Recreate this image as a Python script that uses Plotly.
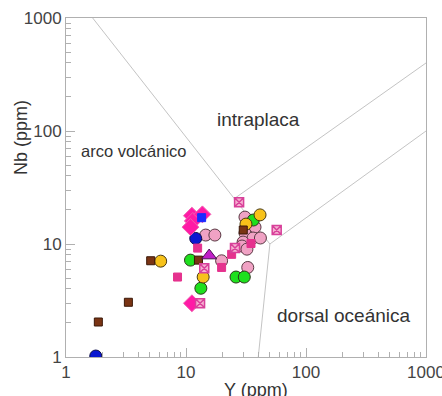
import plotly.graph_objects as go

# ---- data (Y ppm, Nb ppm) ----
pink_circ_y = [31.0, 37.6, 31.0, 36.2, 41.7, 29.9, 29.3, 32.2, 14.6, 17.4, 19.8, 32.7]
pink_circ_nb = [17.3, 14.1, 12.5, 11.3, 11.3, 10.4, 9.6, 9.0, 12.0, 12.0, 7.1, 6.2]
green_y = [10.9, 13.3, 36.4, 26.1, 30.6]
green_nb = [7.2, 4.06, 16.3, 5.1, 5.1]
yellow_y = [6.15, 13.9, 41.4, 31.6]
yellow_nb = [7.05, 5.1, 18.1, 15.0]
blue_circ_y = [1.77, 12.05]
blue_circ_nb = [1.02, 11.2]
brown_sq_y = [5.08, 3.31, 1.86, 12.7, 30.0]
brown_sq_nb = [7.11, 3.05, 2.04, 7.2, 13.3]
mag_sq_y = [12.5, 8.5, 34.8, 24.0, 19.8]
mag_sq_nb = [9.2, 5.1, 10.1, 8.1, 6.2]
diam_y = [11.2, 11.4, 10.9, 13.7, 11.2]
diam_nb = [17.8, 16.0, 14.1, 18.3, 2.99]
xsq_y = [14.2, 13.1, 27.7, 57.0, 25.6]
xsq_nb = [6.1, 2.99, 23.4, 13.3, 9.2]
blue_sq_y = [13.5]
blue_sq_nb = [17.1]
tri_y = [15.6]
tri_nb = [7.9]

# field boundaries (Pearce et al. 1984)
b1_y, b1_nb = [1, 50], [2000, 10]
b2_y, b2_nb = [25, 1000], [25, 400]
b3_y, b3_nb = [50, 1000], [10, 100]
b4_y, b4_nb = [40, 50], [1, 10]

tick_vals = [1, 10, 100, 1000]
tick_text = ["1", "10", "100", "1000"]

fig = go.Figure()
line_style = dict(color="#c4c4c4", width=1)
for bx, by in [(b1_y, b1_nb), (b2_y, b2_nb), (b3_y, b3_nb), (b4_y, b4_nb)]:
    fig.add_trace(go.Scatter(x=bx, y=by, mode="lines", line=line_style,
                             hoverinfo="skip", showlegend=False))

def pts(x, y, symbol, size, color, lcolor, lw=1):
    fig.add_trace(go.Scatter(x=x, y=y, mode="markers", showlegend=False,
                             marker=dict(symbol=symbol, size=size, color=color,
                                         line=dict(color=lcolor, width=lw))))

pts(pink_circ_y, pink_circ_nb, "circle", 12, "#f0a2c4", "#5a3a44")
pts(green_y, green_nb, "circle", 12, "#1ee01e", "#2a3a1a")
pts(yellow_y, yellow_nb, "circle", 12, "#f7c21a", "#4a3a10")
pts(blue_circ_y, blue_circ_nb, "circle", 12, "#0a18d0", "#10104a")
pts(brown_sq_y, brown_sq_nb, "square", 8, "#7a3414", "#3a1808")
pts(mag_sq_y, mag_sq_nb, "square", 8, "#e5328e", "#e5328e")
pts(diam_y, diam_nb, "diamond", 13, "#ff1aa6", "#f060b0")
pts(xsq_y, xsq_nb, "square-x", 9, "#f6b0d0", "#d8409a", 1.5)
pts(blue_sq_y, blue_sq_nb, "square", 8, "#1a2aff", "#1a2aff")
pts(tri_y, tri_nb, "triangle-up", 13, "#c01ec8", "#4a1050")

axis_common = dict(
    type="log", range=[0, 3], tickvals=tick_vals, ticktext=tick_text,
    ticks="inside", ticklen=9, tickcolor="#b0b0b0", tickwidth=1,
    showline=True, linecolor="#b0b0b0", linewidth=1, mirror=True,
    showgrid=False, zeroline=False, ticklabeloverflow="allow", automargin=False,
    tickfont=dict(family="Liberation Sans, Arial", size=17, color="#444"),
    minor=dict(ticks="inside", ticklen=5, tickcolor="#b0b0b0", dtick="D1", showgrid=False),
)
fig.update_xaxes(**axis_common)
fig.update_yaxes(**axis_common)

txt = dict(family="Liberation Sans, Arial", color="#333")
fig.add_annotation(x=1.6, y=2.1, xref="x", yref="y", text="intraplaca",
                   showarrow=False, font=dict(size=19, **txt))
fig.add_annotation(x=0.56, y=1.82, xref="x", yref="y", text="arco volcánico",
                   showarrow=False, font=dict(size=16.5, **txt))
fig.add_annotation(x=2.317, y=0.37, xref="x", yref="y", text="dorsal oceánica",
                   showarrow=False, font=dict(size=19, **txt))
# axis titles
fig.add_annotation(x=(256 - 66) / 360, y=-(378 - 357) / 339, xref="paper", yref="paper",
                   xanchor="center", yanchor="top", text="Y (ppm)", showarrow=False,
                   font=dict(size=18, **txt))
fig.add_annotation(x=-(66 - 21) / 360, y=(357 - 138) / 339, xref="paper", yref="paper",
                   xanchor="center", yanchor="middle", text="Nb (ppm)", showarrow=False,
                   textangle=-90, font=dict(size=18, **txt))

fig.update_layout(
    width=442, height=396,
    margin=dict(l=66, r=16, t=18, b=39, autoexpand=False),
    paper_bgcolor="white", plot_bgcolor="white",
    showlegend=False,
)
fig.write_html("out.html")
